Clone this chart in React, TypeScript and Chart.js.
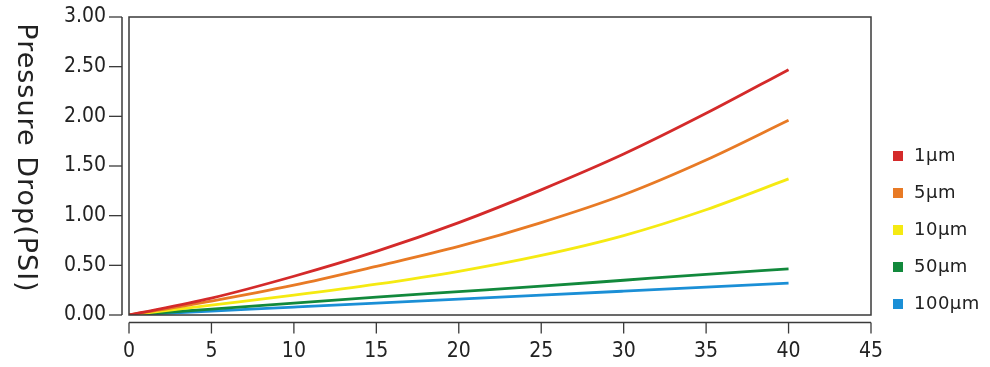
import React, { useEffect, useRef } from "react";
import { Chart, registerables } from "chart.js";

Chart.register(...registerables);

const xValues = [0, 5, 10, 15, 20, 25, 30, 35, 40];
const series1um = [0, 0.17, 0.39, 0.64, 0.93, 1.26, 1.62, 2.03, 2.47];
const series5um = [0, 0.14, 0.3, 0.49, 0.69, 0.93, 1.21, 1.56, 1.96];
const series10um = [0, 0.1, 0.2, 0.31, 0.44, 0.6, 0.8, 1.06, 1.37];
const series50um = [0, 0.06, 0.12, 0.18, 0.235, 0.29, 0.35, 0.41, 0.465];
const series100um = [0, 0.04, 0.08, 0.12, 0.16, 0.2, 0.24, 0.28, 0.32];
const seriesLabels = ["1μm", "5μm", "10μm", "50μm", "100μm"];
const seriesColors = ["#d42a2a", "#e87a25", "#f5ea12", "#12893c", "#1b8fd6"];
const yTitle = "Pressure Drop(PSI)";

const allSeries = [series1um, series5um, series10um, series50um, series100um];

const AX = "#3a3a3a";
const FONT = "'DejaVu Sans', sans-serif";
const FONT_C = "'DejaVu Sans Condensed', 'DejaVu Sans', sans-serif";

const decoPlugin = {
  id: "deco",
  afterDraw(chart: any) {
    const { ctx, chartArea } = chart;
    const xs = chart.scales.x;
    const ys = chart.scales.y;
    ctx.save();
    // plot box
    ctx.strokeStyle = AX;
    ctx.lineWidth = 1.5;
    ctx.strokeRect(chartArea.left, chartArea.top, chartArea.right - chartArea.left, chartArea.bottom - chartArea.top);
    // detached x axis
    const ay = chartArea.bottom + 7.5;
    ctx.beginPath();
    ctx.moveTo(xs.left, ay);
    ctx.lineTo(xs.right, ay);
    ctx.stroke();
    ctx.lineWidth = 1.3;
    xs.ticks.forEach((t: any) => {
      const px = xs.getPixelForValue(t.value);
      ctx.beginPath();
      ctx.moveTo(px, ay);
      ctx.lineTo(px, ay + 11);
      ctx.stroke();
    });
    // detached y axis
    const ax = chartArea.left - 7;
    ctx.lineWidth = 1.5;
    ctx.beginPath();
    ctx.moveTo(ax, chartArea.top);
    ctx.lineTo(ax, chartArea.bottom);
    ctx.stroke();
    ctx.lineWidth = 1.3;
    ys.ticks.forEach((t: any) => {
      const py = ys.getPixelForValue(t.value);
      ctx.beginPath();
      ctx.moveTo(ax - 13, py);
      ctx.lineTo(ax, py);
      ctx.stroke();
    });
    // y title, reading top to bottom
    ctx.fillStyle = "#222";
    ctx.font = `27px ${FONT}`;
    (ctx as any).letterSpacing = "1px";
    ctx.textAlign = "center";
    ctx.textBaseline = "middle";
    ctx.translate(25, (chartArea.top + chartArea.bottom) / 2 - 8);
    ctx.rotate(Math.PI / 2);
    ctx.fillText(yTitle, 0, 0);
    ctx.restore();
    // legend
    ctx.save();
    ctx.font = `18px ${FONT}`;
    (ctx as any).letterSpacing = "0.5px";
    ctx.textBaseline = "middle";
    ctx.textAlign = "left";
    chart.data.datasets.forEach((ds: any, i: number) => {
      const cy = 156 + i * 37;
      ctx.fillStyle = ds.borderColor;
      ctx.fillRect(893, cy - 5, 10, 10);
      ctx.fillStyle = "#222";
      ctx.fillText(ds.label, 914, cy);
    });
    ctx.restore();
  },
};

export default function App() {
  const ref = useRef<HTMLCanvasElement>(null);
  useEffect(() => {
    const chart = new Chart(ref.current!, {
      type: "line",
      data: {
        datasets: allSeries.map((s, i) => ({
          label: seriesLabels[i],
          data: s.map((v, j) => ({ x: xValues[j], y: v })),
          borderColor: seriesColors[i],
          backgroundColor: seriesColors[i],
          borderWidth: 2.8,
          pointRadius: 0,
          cubicInterpolationMode: "monotone" as const,
          fill: false,
        })),
      },
      options: {
        animation: false,
        responsive: false,
        layout: { padding: { top: 17, right: 119, left: 0, bottom: 0 } },
        plugins: { legend: { display: false }, tooltip: { enabled: false } },
        scales: {
          x: {
            type: "linear",
            min: 0,
            max: 45,
            ticks: { stepSize: 5, color: "#222", font: { family: FONT_C, size: 21 }, padding: 6 },
            grid: { drawOnChartArea: false, drawTicks: true, tickLength: 18, color: "rgba(0,0,0,0)" },
            border: { display: false },
            afterFit: (s: any) => { s.height = 52; },
          },
          y: {
            min: 0,
            max: 3,
            ticks: { stepSize: 0.5, color: "#222", font: { family: FONT_C, size: 21 }, padding: 3, callback: (v: any) => Number(v).toFixed(2) },
            grid: { drawOnChartArea: false, drawTicks: true, tickLength: 20, color: "rgba(0,0,0,0)" },
            border: { display: false },
            afterFit: (s: any) => { s.width = 129; },
          },
        },
      },
      plugins: [decoPlugin],
    });
    return () => chart.destroy();
  }, []);
  return (
    <div style={{ position: "fixed", left: 0, top: 0, width: 990, height: 367, background: "#fff" }}>
      <canvas ref={ref} width={990} height={367} style={{ width: 990, height: 367 }} />
    </div>
  );
}
